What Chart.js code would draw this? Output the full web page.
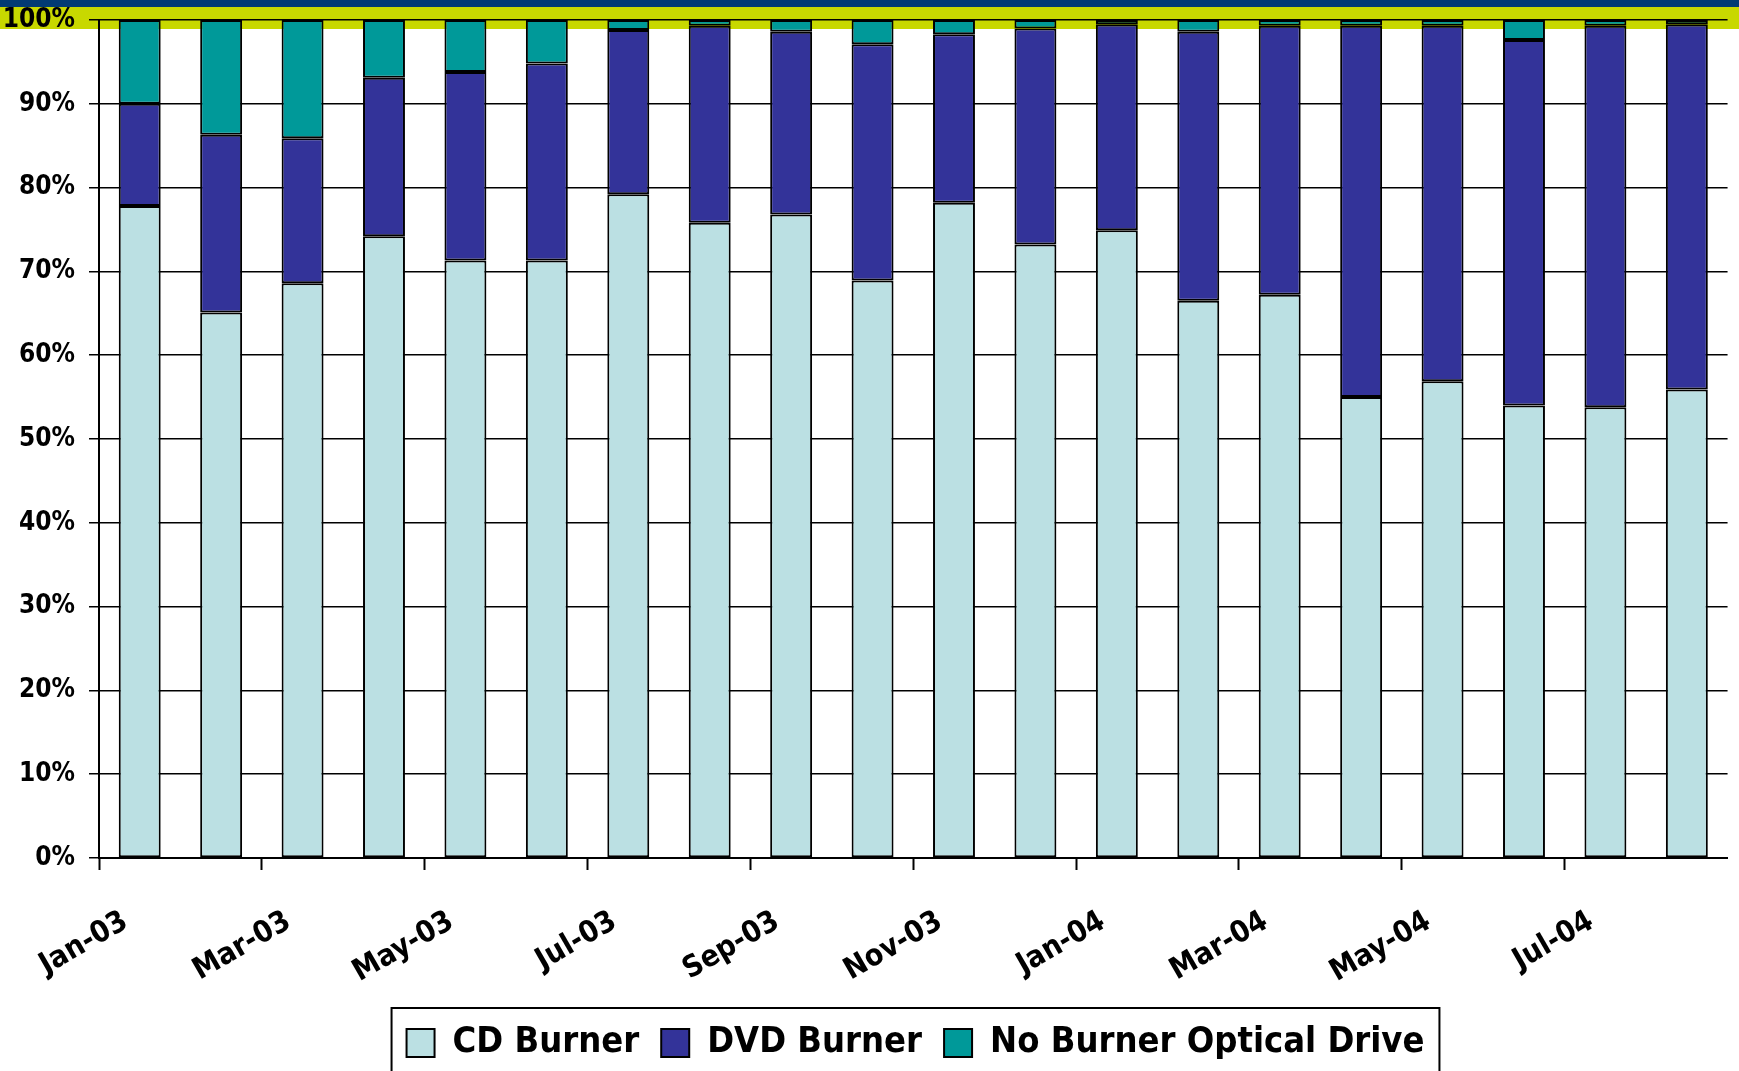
<!DOCTYPE html>
<html>
<head>
<meta charset="utf-8">
<script src="https://cdn.jsdelivr.net/npm/chart.js@4.4.1/dist/chart.umd.min.js"></script>
<style>
  html, body { margin: 0; padding: 0; background: #fff; }
  #wrap { width: 1739px; height: 1071px; position: relative; }
</style>
</head>
<body>
<div id="wrap"><canvas id="chart" width="1739" height="1071"></canvas></div>
<script>
// months, Jan-03 .. Aug-04
const months = ["Jan-03", "Feb-03", "Mar-03", "Apr-03", "May-03", "Jun-03", "Jul-03", "Aug-03", "Sep-03", "Oct-03",
  "Nov-03", "Dec-03", "Jan-04", "Feb-04", "Mar-04", "Apr-04", "May-04", "Jun-04", "Jul-04", "Aug-04"];

// share of units, %
const cdBurner = [77.8, 65.1, 68.6, 74.2, 71.3, 71.3, 79.2, 75.8, 76.8, 68.9,
  78.2, 73.2, 74.9, 66.5, 67.2, 55.0, 56.9, 54.0, 53.8, 55.9];
const dvdBurner = [12.2, 21.2, 17.3, 18.9, 22.5, 23.5, 19.6, 23.5, 21.8, 28.2,
  20.1, 25.8, 24.6, 32.1, 32.1, 44.3, 42.4, 43.6, 45.5, 43.6];
const noBurner = [10.0, 13.7, 14.1, 6.9, 6.2, 5.2, 1.2, 0.7, 1.4, 2.9,
  1.7, 1.0, 0.5, 1.4, 0.7, 0.7, 0.7, 2.4, 0.7, 0.5];

const yTicks = [0, 10, 20, 30, 40, 50, 60, 70, 80, 90, 100];

const FONT = "'Liberation Sans Narrow', 'DejaVu Sans Condensed', 'Liberation Sans', sans-serif";

// header band behind the chart (dark blue strip + yellow-green strip)
const bandPlugin = {
  id: 'band',
  beforeDraw(chart) {
    const ctx = chart.ctx;
    ctx.save();
    ctx.fillStyle = '#ffffff';
    ctx.fillRect(0, 0, chart.width, chart.height);
    ctx.fillStyle = '#c8d800';
    ctx.fillRect(0, 7, chart.width, 22);
    ctx.fillStyle = '#023a73';
    ctx.fillRect(0, 0, chart.width, 7);
    ctx.restore();
  }
};

// legend sits a bit right of the page centre in the original
const legendShift = {
  id: 'legendShift',
  afterLayout(chart) {
    chart.legend.left += 49;
    chart.legend.right += 49;
  }
};

// frame round the legend, open at the bottom edge like the original
const legendFrame = {
  id: 'legendFrame',
  afterDraw(chart) {
    const lg = chart.legend;
    if (!lg || !lg.legendHitBoxes.length) return;
    const boxes = lg.legendHitBoxes;
    const first = boxes[0], last = boxes[boxes.length - 1];
    const ctx = chart.ctx;
    ctx.save();
    ctx.strokeStyle = '#000';
    ctx.lineWidth = 2;
    ctx.strokeRect(first.left - 15, first.top - 17, last.left + last.width - first.left + 30, 120);
    ctx.restore();
  }
};

const seg = (label, data, color) => ({
  label, data,
  backgroundColor: color,
  borderColor: '#000',
  borderWidth: 2,
  borderSkipped: false,
  barPercentage: 0.515,
  categoryPercentage: 1
});

new Chart(document.getElementById('chart'), {
  type: 'bar',
  data: {
    labels: months,
    datasets: [
      seg('CD Burner', cdBurner, '#bbe0e3'),
      seg('DVD Burner', dvdBurner, '#333399'),
      seg('No Burner Optical Drive', noBurner, '#009999')
    ]
  },
  options: {
    responsive: false,
    animation: false,
    layout: { padding: { left: 0, right: 6, top: 20, bottom: 0 } },
    plugins: {
      tooltip: { enabled: false },
      legend: {
        position: 'bottom',
        labels: {
          color: '#000',
          boxWidth: 28,
          boxHeight: 28,
          padding: 22,
          font: { family: FONT, size: 36, weight: 'bold' }
        }
      }
    },
    scales: {
      x: {
        stacked: true,
        offset: true,
        afterFit(scale) { scale.height = 145; },
        grid: {
          offset: true,
          drawOnChartArea: false,
          drawTicks: true,
          tickLength: 12,
          tickWidth: 2,
          tickColor: ctx => (ctx.index % 2 === 0 ? '#000' : 'rgba(0,0,0,0)')
        },
        border: { display: true, color: '#000', width: 2 },
        ticks: {
          autoSkip: false,
          maxRotation: 30,
          minRotation: 30,
          padding: 34,
          labelOffset: -14,
          color: '#000',
          font: { family: FONT, size: 30, weight: 'bold' },
          callback: (v, i) => (i % 2 === 0 ? months[i] : '')
        }
      },
      y: {
        stacked: true,
        min: 0,
        max: 100,
        afterFit(scale) {
          scale.width = 99;
          scale.paddingTop = 0;
          scale.paddingBottom = 0;
        },
        afterBuildTicks(scale) { scale.ticks = yTicks.map(v => ({ value: v })); },
        grid: { color: '#000', lineWidth: 1.5, tickLength: 10 },
        border: { display: true, color: '#000', width: 2 },
        ticks: {
          padding: 14,
          color: '#000',
          font: { family: FONT, size: 26, weight: 'bold' },
          callback: v => v + '%'
        }
      }
    }
  },
  plugins: [bandPlugin, legendShift, legendFrame]
});
</script>
</body>
</html>
